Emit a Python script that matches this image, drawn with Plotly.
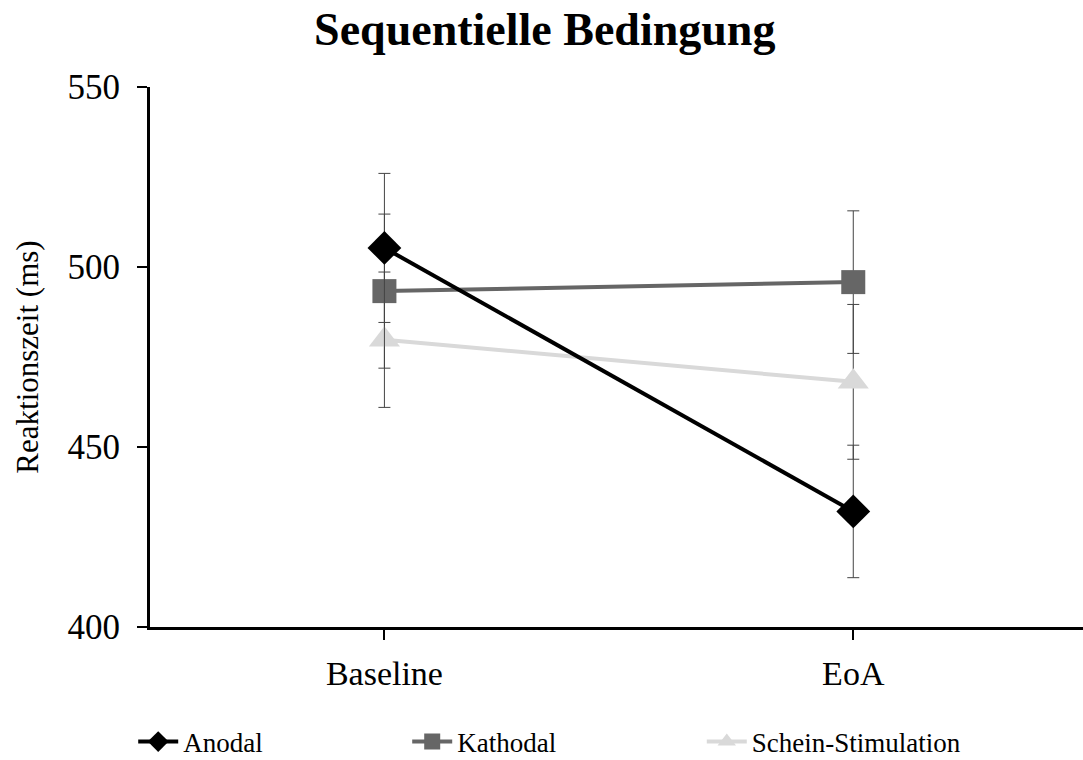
import plotly.graph_objects as go

categories = ["Baseline", "EoA"]
anodal = [505.3, 432.1]
anodal_err = [20.7, 18.4]
kathodal = [493.3, 495.8]
kathodal_err = [21.4, 19.8]
schein = [479.8, 468.1]
schein_err = [18.8, 21.5]
y_ticks = [400, 450, 500, 550]

FONT = "Liberation Serif, Times New Roman, serif"
xpos = [0, 1]

fig = go.Figure()

series = [
    ("Schein-Stimulation", schein, schein_err, "#d9d9d9", "triangle-up", 27, "legend3"),
    ("Kathodal", kathodal, kathodal_err, "#666666", "square", 24, "legend2"),
    ("Anodal", anodal, anodal_err, "#000000", "diamond", 26, "legend"),
]
for name, vals, errs, col, sym, sz, lg in series:
    fig.add_trace(go.Scatter(
        x=xpos, y=vals, name=name, mode="lines+markers",
        line=dict(color=col, width=4),
        marker=dict(symbol=sym, size=sz, color=col),
        error_y=dict(type="data", array=errs, visible=True, color="#444444",
                     thickness=1, width=6),
        legend=lg, showlegend=True,
    ))

leg_common = dict(orientation="h", xref="container", yref="container",
                  yanchor="middle", y=1 - 742 / 760, xanchor="left",
                  font=dict(family=FONT, size=27, color="#000"),
                  bgcolor="rgba(0,0,0,0)", itemwidth=40)
fig.update_layout(
    width=1083, height=760,
    margin=dict(l=150, r=0, t=87, b=133, autoexpand=False),
    plot_bgcolor="white", paper_bgcolor="white",
    title=dict(text="<b>Sequentielle Bedingung</b>", x=0.503, xanchor="center",
               y=0.962, yanchor="middle",
               font=dict(family=FONT, size=46, color="#000")),
    xaxis=dict(range=[-0.5, 1.49], tickvals=xpos, ticktext=categories,
               showgrid=False, zeroline=False, showline=True, linecolor="#000",
               linewidth=3, ticks="outside", ticklen=10, tickwidth=2, tickcolor="#000",
               ticklabelstandoff=4,
               tickfont=dict(family=FONT, size=34, color="#000")),
    yaxis=dict(range=[400, 550], tickvals=y_ticks, showgrid=False, zeroline=False,
               showline=True, linecolor="#000", linewidth=3, ticks="outside",
               ticklen=10, tickwidth=2, tickcolor="#000", ticklabelstandoff=10,
               tickfont=dict(family=FONT, size=35, color="#000"),
               title=dict(text="Reaktionszeit (ms)", standoff=20,
                          font=dict(family=FONT, size=31, color="#000"))),
    legend=dict(x=0.123, **leg_common),
    legend2=dict(x=0.376, **leg_common),
    legend3=dict(x=0.648, **leg_common),
)

fig.write_html("out.html", config={"displayModeBar": False},
               post_script="document.body.style.margin='0px';document.body.style.overflow='hidden';")
